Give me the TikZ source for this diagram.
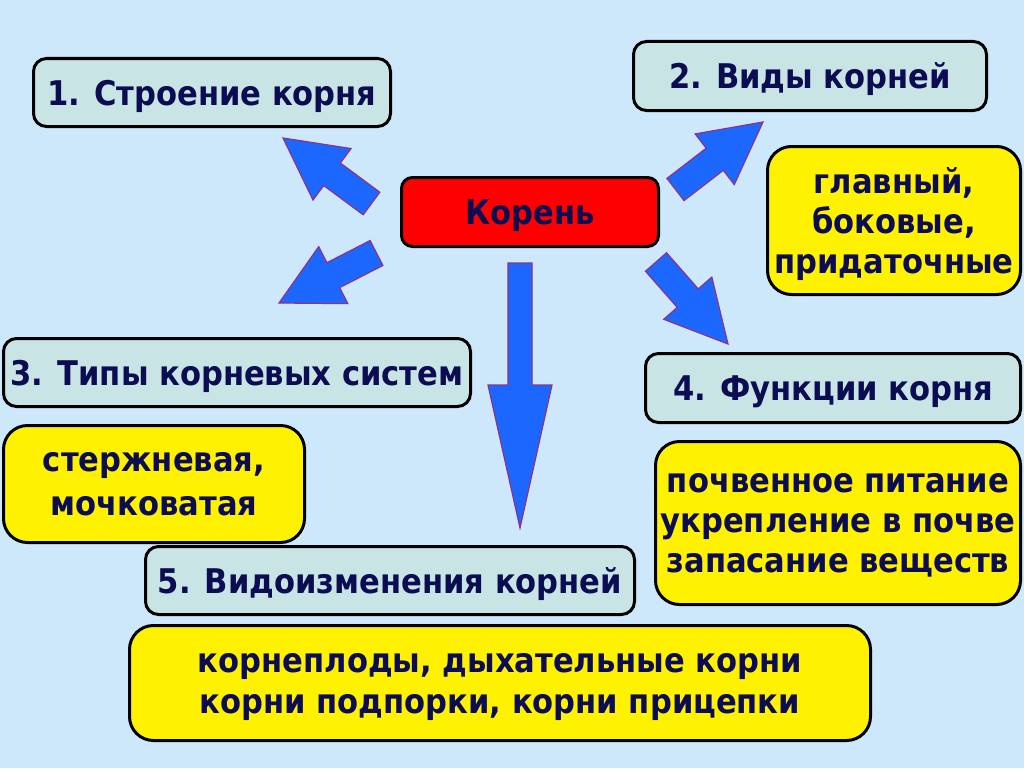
\documentclass[tikz,border=0pt]{standalone}
\usepackage{fontspec}
\setmainfont{DejaVu Sans Condensed}
\usetikzlibrary{calc}

\definecolor{bgblue}{RGB}{204,232,250}
\definecolor{tealbox}{RGB}{200,228,228}
\definecolor{navytext}{RGB}{12,12,82}
\definecolor{arrowblue}{RGB}{28,104,255}
\definecolor{arrowedge}{RGB}{140,50,140}

% block arrow: name, start, tip, half shaft, half head, head length
\newcommand{\blockarrow}[6]{%
  \coordinate (#1h) at ($(#3)!#6!(#2)$);
  \draw[barrow] ($(#2)!#4!90:(#3)$) -- ($(#1h)!#4!90:(#3)$) -- ($(#1h)!#5!90:(#3)$) -- (#3)
    -- ($(#1h)!#5!-90:(#3)$) -- ($(#1h)!#4!-90:(#3)$) -- ($(#2)!#4!-90:(#3)$) -- cycle;}

\begin{document}
\begin{tikzpicture}[
        x=1pt, y=-1pt,
        txt/.style={align=center, text=navytext, font=\fontsize{34}{40}\selectfont\bfseries, inner sep=0pt, text depth=-2pt},
        topic/.style={txt, rectangle, draw=black, line width=3pt, fill=tealbox, rounded corners=13pt},
        info/.style={txt, rectangle, draw=black, line width=3pt, fill=yellow, rounded corners=24pt},
        root/.style={txt, rectangle, draw=black, line width=3pt, fill=red, rounded corners=11pt},
        barrow/.style={fill=arrowblue, draw=arrowedge, line width=1.2pt, line join=miter}
    ]
        \fill[bgblue] (0,0) rectangle (1024,768);
        \useasboundingbox (0,0) rectangle (1024,768);

        % Nodes
        \node[root, minimum width=257pt, minimum height=69pt] (koren) at (530,212) {Корень};
        \node[topic, minimum width=357pt, minimum height=68pt] (stroenie) at (212,92.5) {1. Строение корня};
        \node[topic, minimum width=353pt, minimum height=69pt] (vidy) at (810,76) {2. Виды корней};
        \node[info, minimum width=253pt, minimum height=148pt] (vidytxt) at (894,220.5) {главный,\\боковые,\\придаточные};
        \node[topic, minimum width=467pt, minimum height=68pt] (tipy) at (237,372.5) {3. Типы корневых систем};
        \node[info, minimum width=301pt, minimum height=117pt, font=\fontsize{34}{44}\selectfont\bfseries] (tipytxt) at (154,484) {стержневая,\\мочковатая};
        \node[topic, minimum width=375pt, minimum height=69pt] (funkcii) at (833,388) {4. Функции корня};
        \node[info, minimum width=365pt, minimum height=163pt, text depth=-6pt] (funkciitxt) at (838,523) {почвенное питание\\укрепление в почве\\запасание веществ};
        \node[topic, minimum width=489pt, minimum height=68pt] (vidoizm) at (390,580.5) {5. Видоизменения корней};
        \node[info, minimum width=741pt, minimum height=115pt, font=\fontsize{34}{41}\selectfont\bfseries] (vidoizmtxt) at (500,683) {корнеплоды, дыхательные корни\\корни подпорки, корни прицепки};

        % Arrows
        \coordinate (ulS) at (371.5,203.5); \coordinate (ulT) at (283,138);
        \coordinate (urS) at (675.5,189.5); \coordinate (urT) at (763,122);
        \coordinate (dlS) at (376.5,253);   \coordinate (dlT) at (279,303);
        \coordinate (drS) at (656,262);     \coordinate (drT) at (728,344);
        \coordinate (dnS) at (520,263);     \coordinate (dnT) at (520,528);
        \blockarrow{ul}{ulS}{ulT}{14pt}{32pt}{61pt}
        \blockarrow{ur}{urS}{urT}{14pt}{32pt}{61pt}
        \blockarrow{dl}{dlS}{dlT}{14pt}{32pt}{61pt}
        \blockarrow{dr}{drS}{drT}{14pt}{32pt}{61pt}
        \blockarrow{dn}{dnS}{dnT}{12pt}{32pt}{143pt}
    \end{tikzpicture}
\end{document}
